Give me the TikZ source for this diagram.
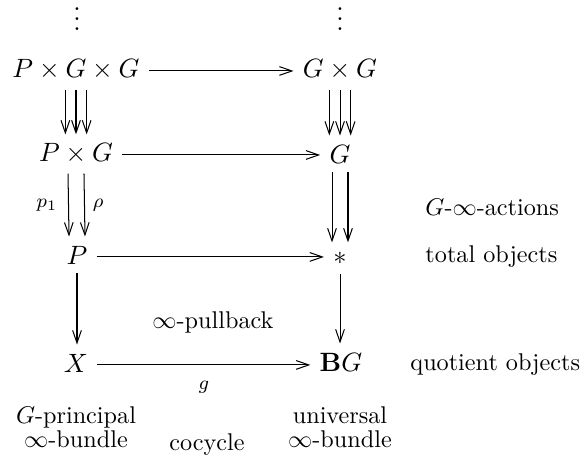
\documentclass[tikz,border=0pt]{standalone}
\usetikzlibrary{arrows.meta}
\begin{document}
\begin{tikzpicture}[x=0.4132pt,y=-0.4132pt,
  obj/.style={inner sep=3.7pt, font=\fontsize{10.95}{13}\selectfont},
  ar/.style={line width=0.42pt,-{Straight Barb[length=5.2pt,width=3.6pt]}},
  lbl/.style={inner sep=0pt, font=\fontsize{8}{9.5}\selectfont},
  txt/.style={inner sep=0pt, font=\fontsize{10}{12}\selectfont}]
\useasboundingbox (0,0) rectangle (584,456);
% objects
\node[obj, inner sep=0pt] (d1) at (77,12) {$\vdots$};
\node[obj, inner sep=0pt] (d2) at (340,12) {$\vdots$};
\node[obj] (pgg) at (76,70) {$P\times G\times G$};
\node[obj] (gg) at (340,70) {$G\times G$};
\node[obj] (pg) at (76,154) {$P\times G$};
\node[obj] (g) at (340,154) {$G$};
\node[obj] (p) at (77,255) {$P$};
\node[obj] (pt) at (340,258) {$*$};
\node[obj] (x) at (76,363) {$X$};
\node[obj] (bg) at (341,362) {$\mathbf{B}G$};
% horizontal arrows
\draw[ar] ([yshift=-0.4pt]pgg.east) -- ([yshift=-0.4pt]pgg.east -| gg.west);
\draw[ar] ([yshift=-0.4pt]pg.east) -- ([yshift=-0.4pt]pg.east -| g.west);
\draw[ar] ([yshift=-0.8pt]p.east) -- ([yshift=-0.8pt]p.east -| pt.west);
\draw[ar] ([yshift=-0.8pt]x.east) -- node[lbl, below, yshift=-6.5pt] (glab) {$g$} ([yshift=-0.8pt]x.east -| bg.west);
% triple arrows
\foreach \s in {-4.4,0,4.4} {
  \draw[ar] ([xshift=\s pt]pgg.south) -- ([xshift=\s pt]pg.north);
  \draw[ar] ([xshift=\s pt]gg.south) -- ([xshift=\s pt]g.north);
}
% double arrows
\draw[ar] ([xshift=-3.3pt]pg.south) -- node[lbl, left, xshift=-4.5pt] (p1) {$p_1$} ([xshift=-3.3pt]p.north);
\draw[ar] ([xshift=3.3pt]pg.south) -- node[lbl, right, xshift=3.3pt] (rho) {$\rho$} ([xshift=3.3pt]p.north);
\draw[ar] ([xshift=-3.3pt]g.south) -- ([xshift=-3.3pt]pt.north);
\draw[ar] ([xshift=3.3pt]g.south) -- ([xshift=3.3pt]pt.north);
% single arrows
\draw[ar] (p.south) -- (p.south |- x.north);
\draw[ar] (pt.south) -- (pt.south |- bg.north);
% text
\node[txt, anchor=base west] (act) at (425,215) {$G$-$\infty$-actions};
\node[txt, anchor=base west] (tot) at (425,262) {total objects};
\node[txt, anchor=base west] (quo) at (410,370) {quotient objects};
\node[txt, anchor=base] (pb) at (213,328) {$\infty$-pullback};
\node[txt, anchor=base] (gp1) at (76,423) {$G$-principal};
\node[txt, anchor=base] (gp2) at (76,447) {$\infty$-bundle};
\node[txt, anchor=base] (un1) at (340,423) {universal};
\node[txt, anchor=base] (un2) at (340,447) {$\infty$-bundle};
\node[txt, anchor=base] (coc) at (207,450) {cocycle};
\end{tikzpicture}
\end{document}
